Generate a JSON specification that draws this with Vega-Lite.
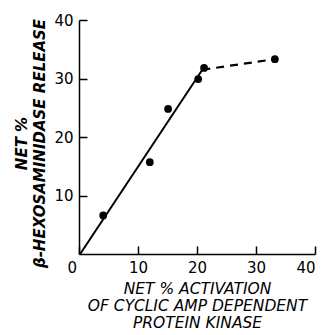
{
  "$schema": "https://vega.github.io/schema/vega-lite/v6.json",
  "autosize": "none",
  "padding": {"left": 79, "top": 20, "right": 12, "bottom": 81},
  "width": 236,
  "height": 234,
  "background": "white",
  "config": {
    "view": {"stroke": null},
    "axis": {
      "grid": false,
      "zindex": 1,
      "domainColor": "black",
      "domainWidth": 1.5,
      "tickColor": "black",
      "tickWidth": 1.5,
      "labelColor": "black",
      "labelFont": "DejaVu Sans",
      "labelFontSize": 15,
      "titleColor": "black",
      "titleFont": "DejaVu Sans",
      "titleFontSize": 15,
      "titleFontStyle": "italic",
      "titleFontWeight": "normal"
    }
  },
  "datasets": {
    "points": [
      {"x": 4.1, "y": 6.6},
      {"x": 12.0, "y": 15.7},
      {"x": 15.1, "y": 24.8},
      {"x": 20.2, "y": 29.9},
      {"x": 21.2, "y": 31.8},
      {"x": 33.2, "y": 33.3}
    ],
    "lines": [
      {"x": 0.2, "y": 0, "series": "solid", "o": 1},
      {"x": 20.9, "y": 31.5, "series": "solid", "o": 2},
      {"x": 20.9, "y": 31.5, "series": "dashed", "o": 1},
      {"x": 33.2, "y": 33.3, "series": "dashed", "o": 2}
    ]
  },
  "layer": [
    {
      "data": {"name": "lines"},
      "transform": [{"filter": "datum.series == 'solid'"}],
      "mark": {"type": "line", "color": "black", "strokeWidth": 2},
      "encoding": {
        "x": {
          "field": "x", "type": "quantitative",
          "scale": {"domain": [0, 40], "nice": false},
          "axis": {
            "values": [0, 10, 20, 30, 40],
            "tickSize": -8,
            "labelPadding": 14,
            "labelOffset": {"condition": {"test": "datum.value == 0", "value": -12}, "value": 0},
            "title": ["NET % ACTIVATION", "OF CYCLIC AMP DEPENDENT", "PROTEIN KINASE"],
            "titlePadding": 6,
            "titleLineHeight": 17,
            "titleFontSize": 15.5
          }
        },
        "y": {
          "field": "y", "type": "quantitative",
          "scale": {"domain": [0, 40], "nice": false},
          "axis": {
            "values": [10, 20, 30, 40],
            "tickSize": -8,
            "labelPadding": 14,
            "title": ["NET %", "β-HEXOSAMINIDASE RELEASE"],
            "titleFontWeight": "bold",
            "titlePadding": 6,
            "titleLineHeight": 18,
            "titleY": 123
          }
        },
        "order": {"field": "o"}
      }
    },
    {
      "data": {"name": "lines"},
      "transform": [{"filter": "datum.series == 'dashed'"}],
      "mark": {"type": "line", "color": "black", "strokeWidth": 2.2, "strokeDash": [8, 6]},
      "encoding": {
        "x": {"field": "x", "type": "quantitative"},
        "y": {"field": "y", "type": "quantitative"},
        "order": {"field": "o"}
      }
    },
    {
      "data": {"name": "points"},
      "mark": {"type": "circle", "color": "black", "opacity": 1, "size": 60},
      "encoding": {
        "x": {"field": "x", "type": "quantitative"},
        "y": {"field": "y", "type": "quantitative"}
      }
    }
  ]
}
